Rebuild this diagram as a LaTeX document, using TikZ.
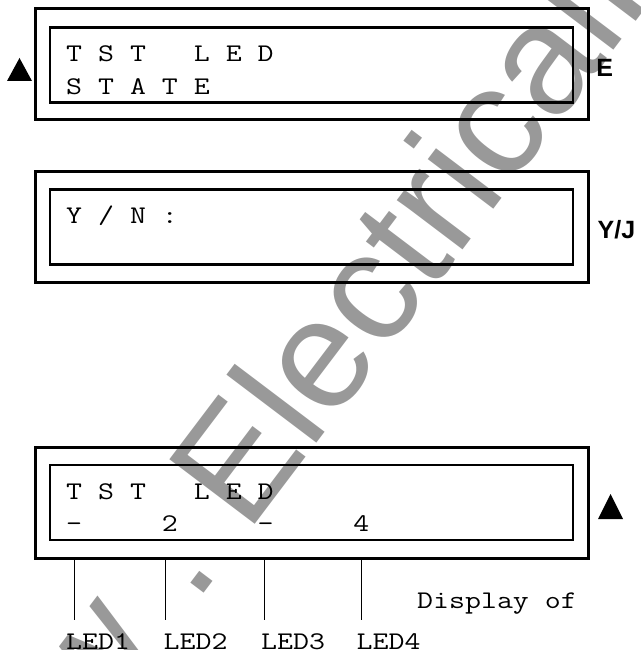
\documentclass[tikz,border=0pt]{standalone}
\usepackage{fontspec}
\usepackage{graphicx}
\newfontfamily\lsans{Liberation Sans}
\newcommand{\lcd}[1]{\scalebox{1.22}[1]{\fontsize{25.4}{25.4}\selectfont\ttfamily #1}}
\tikzset{
  outerbox/.style={draw, line width=3pt, minimum width=553pt, minimum height=111pt, inner sep=0pt},
  innerbox/.style={draw, line width=2.5pt, minimum width=523pt, minimum height=75pt, inner sep=0pt},
  lcdtext/.style={anchor=base west, inner sep=0pt},
  keytext/.style={anchor=base west, inner sep=0pt, font=\lsans\bfseries\fontsize{25}{25}\selectfont},
  tick/.style={line width=0.9pt},
  wm/.style={text=black!40, inner sep=0pt, rotate=52.9, font=\lsans\fontsize{155.6}{155.6}\selectfont}
}
\begin{document}
\begin{tikzpicture}[x=1pt,y=-1pt]
\useasboundingbox (0,0) rectangle (640,650);
% watermark
\begin{scope}
\clip (0,0) rectangle (640,650);
\node[wm, anchor=base west] (wmA) at (247.6,534.8) {ElectricalPartManuals.com};
\node[wm, anchor=base east] (wmB) at (247.6,534.8) {www\kern0.34em.\kern0.278em};
\end{scope}
% box 1
\node[outerbox] (b1o) at (311.5,64.5) {};
\node[innerbox] (b1i) at (311.5,65) {};
\node[lcdtext] (t1a) at (66,61.5) {\lcd{T~S~T~~~L~E~D}};
\node[lcdtext] (t1b) at (66,94.5) {\lcd{S~T~A~T~E}};
\fill (19.5,58) -- (32,81) -- (7,81) -- cycle;
\node[keytext] (kE) at (596.2,76.5) {E};
% box 2
\node[outerbox] (b2o) at (311.5,226.5) {};
\node[innerbox] (b2i) at (311.5,227) {};
\node[lcdtext] (t2a) at (66,223) {\lcd{Y~/~N~:}};
\node[keytext] (kYJ) at (597.5,238) {Y/J};
% box 3
\node[outerbox] (b3o) at (311.5,502.5) {};
\node[innerbox] (b3i) at (311.5,502.5) {};
\node[lcdtext] (t3a) at (66,499) {\lcd{T~S~T~~~L~E~D}};
\node[lcdtext] (t3b) at (66,531) {\lcd{-~~~~~2~~~~~-~~~~~4}};
\fill (610.5,494) -- (623,519) -- (598,519) -- cycle;
% LED labels
\node[lcdtext] (disp) at (417,608) {\lcd{Display~of}};
\node[lcdtext] (led1) at (66,649) {\lcd{LED1}};
\node[lcdtext] (led2) at (163.5,649) {\lcd{LED2}};
\node[lcdtext] (led3) at (261,649) {\lcd{LED3}};
\node[lcdtext] (led4) at (356.5,649) {\lcd{LED4}};
\coordinate (e1) at (74,620);
\coordinate (e2) at (165,620);
\coordinate (e3) at (264,620);
\coordinate (e4) at (361,620);
\foreach \i in {1,2,3,4} \draw[tick] (e\i |- b3o.south) -- (e\i);
\end{tikzpicture}
\end{document}
